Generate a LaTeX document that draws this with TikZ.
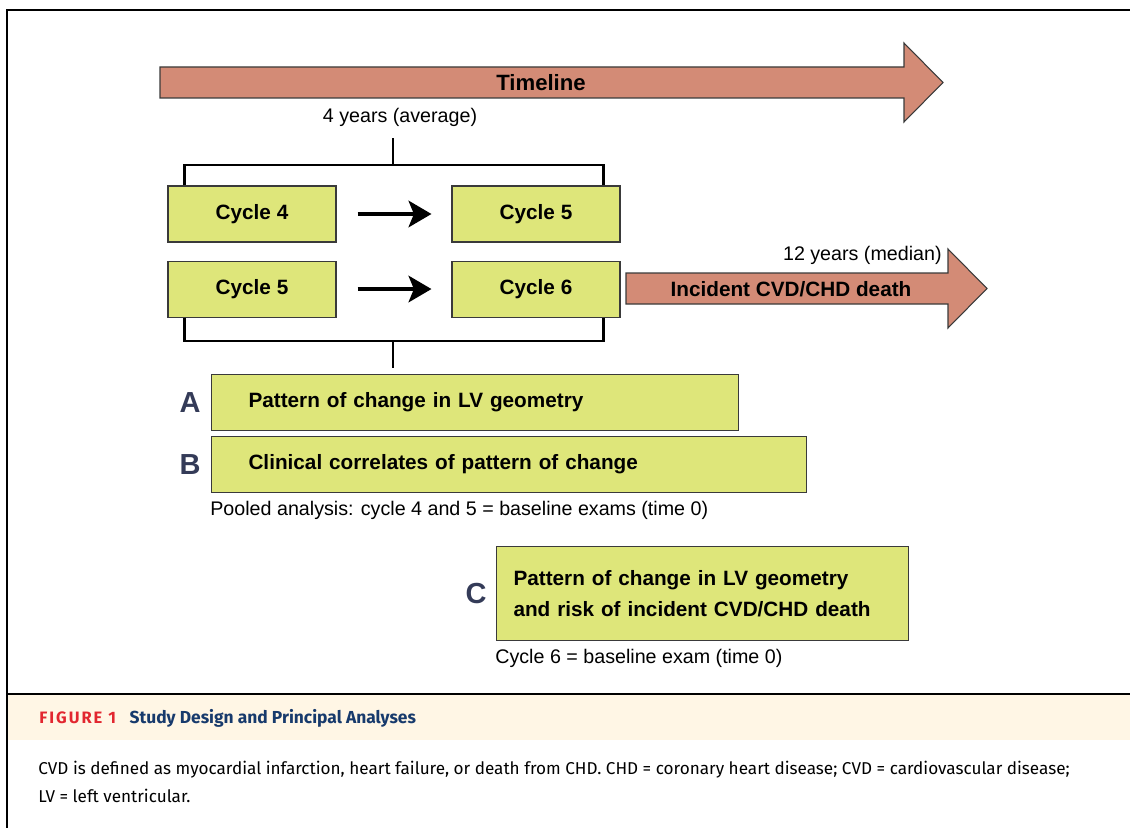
\documentclass[tikz,border=0pt]{standalone}
\usepackage{fontspec}
\setmainfont{Liberation Sans}
\newfontfamily\capfont{Fira Sans}
\usetikzlibrary{arrows.meta,positioning,calc}
\definecolor{tlsalmon}{HTML}{D38B76}
\definecolor{cyclegreen}{HTML}{DEE67A}
\definecolor{lettergrey}{HTML}{343B58}
\definecolor{capred}{HTML}{E2262F}
\definecolor{capnavy}{HTML}{173A6C}
\definecolor{capband}{HTML}{FFF6E5}
\definecolor{edgegrey}{HTML}{3A3A3A}

\begin{document}
\begin{tikzpicture}[
  x=0.02cm,y=-0.02cm,
  boldtxt/.style={font=\fontsize{11.8}{14}\selectfont\bfseries},
  plaintxt/.style={font=\fontsize{11.2}{13}\selectfont,inner sep=0pt},
  cyclebox/.style={draw=edgegrey,fill=cyclegreen,line width=0.6pt,boldtxt,
    minimum width=3.36cm,minimum height=1.12cm},
  resbox/.style={draw=edgegrey,fill=cyclegreen,line width=0.6pt,boldtxt,
    align=left,minimum height=1.12cm,inner xsep=0.74cm,anchor=north west},
  letter/.style={font=\fontsize{16.5}{18}\selectfont\bfseries,text=lettergrey,inner sep=0pt},
  bigarrow/.style={draw=edgegrey,fill=tlsalmon,line width=0.6pt},
  bracket/.style={line width=1.5pt},
  step arrow/.style={line width=2.8pt,-{Stealth[length=13pt,width=15pt,inset=3pt]},
    shorten <=0.42cm,shorten >=0.4cm},
  >=Latex]
\useasboundingbox (0,0) rectangle (1130,828);

% frame and caption band
\fill[capband] (8,695) rectangle (1130,740);
\draw[line width=1.1pt] (7,828) -- (7,10) -- (1130,10);
\draw[line width=0.9pt] (7,694) -- (1130,694);

% timeline
\draw[bigarrow] (160,67) -- (904,67) -- (904,43) -- (943,82.5) -- (904,122) -- (904,98) -- (160,98) -- cycle;
\node[boldtxt,font=\fontsize{12.6}{14}\selectfont\bfseries] (tl) at (541,82.5) {Timeline};
\node[plaintxt] (avg) at (400,117) {4 years (average)};

% cycles
\node[cyclebox] (c4) at (252,214) {Cycle 4};
\node[cyclebox,right=2.3cm of c4] (c5a) {Cycle 5};
\node[cyclebox,below=0.36cm of c4] (c5b) {Cycle 5};
\node[cyclebox,below=0.36cm of c5a] (c6) {Cycle 6};
\draw[step arrow] (c4) -- (c5a);
\draw[step arrow] (c5b) -- (c6);

\coordinate (topmid) at (393,165);
\draw[bracket] ($(c4.north west)+(17,0)$) |- (topmid) -| ($(c5a.north east)+(-17,0)$);
\draw[bracket] (topmid) -- ++(0,-27);

% follow-up
\draw[bigarrow] (626,273) -- (948,273) -- (948,249) -- (987,288.5) -- (948,328) -- (948,304) -- (626,304) -- cycle;
\node[boldtxt] (inc) at (791,289) {Incident CVD/CHD death};
\node[plaintxt,anchor=east] (med) at (942,255) {12 years (median)};

% analyses
\node[resbox,text width=9.06cm] (boxA) at (211,374) {Pattern of change in LV geometry};
\node[resbox,text width=10.42cm] (boxB) at (211,436) {Clinical correlates of pattern of change};
\coordinate (botmid) at (393,341);
\draw[bracket] ($(c5b.south west)+(17,0)$) |- (botmid) -| ($(c6.south east)+(-17,0)$);
\draw[bracket,shorten >=0.12cm] (botmid) -- (botmid |- boxA.north);
\node[letter,left=0.2cm of boxA] (la) {A};
\node[letter,left=0.2cm of boxB] (lb) {B};
\node[plaintxt,anchor=west] (pool) at (210,510) {Pooled analysis: cycle 4 and 5 = baseline exams (time 0)};

\node[resbox,text width=7.56cm,inner xsep=0.34cm,minimum height=1.88cm,
  font=\fontsize{11.8}{17.6}\selectfont\bfseries] (boxC) at (496,546)
  {Pattern of change in LV geometry\\and risk of incident CVD/CHD death};
\node[letter,left=0.18cm of boxC] (lc) {C};
\node[plaintxt,anchor=west] (base) at (495,658) {Cycle 6 = baseline exam (time 0)};

% caption
\node[anchor=west,inner sep=0pt,text=capred,
  font=\capfont\bfseries\fontsize{9.4}{11}\selectfont\addfontfeatures{LetterSpace=12}] (figno) at (39,718) {FIGURE 1};
\node[right=0.26cm of figno,inner sep=0pt,text=capnavy,
  font=\capfont\bfseries\fontsize{9.9}{12}\selectfont] (title) {Study Design and Principal Analyses};
\node[anchor=north west,inner sep=0pt,align=left,
  font=\capfont\fontsize{9.75}{15.9}\selectfont] (note) at (38,761)
  {CVD is defined as myocardial infarction, heart failure, or death from CHD. CHD = coronary heart disease; CVD = cardiovascular disease;\\
   LV = left ventricular.};
\end{tikzpicture}
\end{document}
